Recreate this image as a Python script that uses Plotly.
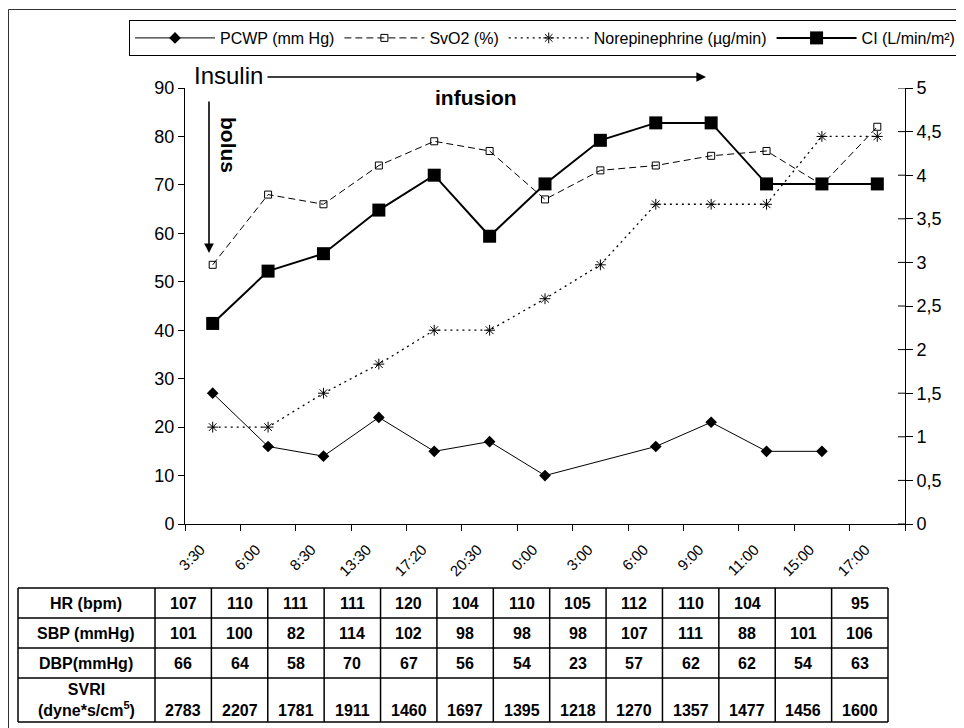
import plotly.graph_objects as go

# ---------------- data ----------------
times = ["3:30", "6:00", "8:30", "13:30", "17:20", "20:30", "0:00",
         "3:00", "6:00", "9:00", "11:00", "15:00", "17:00"]
pcwp = [27, 16, 14, 22, 15, 17, 10, None, 16, 21, 15, 15, None]
svo2 = [53.5, 68, 66, 74, 79, 77, 67, 73, 74, 76, 77, 70, 82]
norepi = [20, 20, 27, 33, 40, 40, 46.5, 53.5, 66, 66, 66, 80, 80]
ci = [2.3, 2.9, 3.1, 3.6, 4.0, 3.3, 3.9, 4.4, 4.6, 4.6, 3.9, 3.9, 3.9]

left_ticks = [0, 10, 20, 30, 40, 50, 60, 70, 80, 90]
right_ticks = [0, 0.5, 1, 1.5, 2, 2.5, 3, 3.5, 4, 4.5, 5]
right_ticktext = ["0", "0,5", "1", "1,5", "2", "2,5", "3", "3,5", "4", "4,5", "5"]

row_labels = ["HR (bpm)", "SBP (mmHg)", "DBP(mmHg)", "SVRI<br>(dyne*s/cm<sup>5</sup>)"]
hr = ["107", "110", "111", "111", "120", "104", "110", "105", "112", "110", "104", "", "95"]
sbp = ["101", "100", "82", "114", "102", "98", "98", "98", "107", "111", "88", "101", "106"]
dbp = ["66", "64", "58", "70", "67", "56", "54", "23", "57", "62", "62", "54", "63"]
svri = ["2783", "2207", "1781", "1911", "1460", "1697", "1395", "1218", "1270",
        "1357", "1477", "1456", "1600"]

# ---------------- layout geometry (reference pixels) ----------------
# the page body adds an 8px offset, so the figure is 8px smaller and shifted
OFF = 8
FW, FH = 964 - OFF, 728 - OFF
L, T = 185, 88          # plot-area left / top in reference pixels
PW, PH = 720, 436
FONT = "Liberation Sans, Arial, sans-serif"


def px(x):
    return (x - L) / PW


def py(y):
    return (T + PH - y) / PH


xs = list(range(len(times)))

fig = go.Figure()
fig.add_trace(go.Scatter(
    x=xs, y=pcwp, name="PCWP (mm Hg)", mode="lines+markers", connectgaps=True,
    line=dict(color="black", width=1),
    marker=dict(symbol="diamond", size=9, color="black")))
fig.add_trace(go.Scatter(
    x=xs, y=svo2, name="SvO2 (%)", mode="lines+markers",
    line=dict(color="black", width=1, dash="7px,4px"),
    marker=dict(symbol="square-open", size=7, color="black", line=dict(width=1))))
fig.add_trace(go.Scatter(
    x=xs, y=norepi, name="Norepinephrine (µg/min)", mode="lines+markers",
    line=dict(color="black", width=1.3, dash="2px,4px"),
    marker=dict(symbol="asterisk-open", size=9, color="black", line=dict(width=1))))
fig.add_trace(go.Scatter(
    x=xs, y=ci, name="CI (L/min/m²)", mode="lines+markers", yaxis="y2",
    line=dict(color="black", width=2),
    marker=dict(symbol="square", size=13, color="black")))

boundaries = [i - 0.5 for i in range(len(times) + 1)]

fig.update_layout(
    width=FW, height=FH,
    margin=dict(l=L - OFF, r=FW - (L - OFF) - PW, t=T - OFF, b=FH - (T - OFF) - PH,
                autoexpand=False),
    paper_bgcolor="white", plot_bgcolor="white",
    font=dict(family=FONT, color="black"),
    showlegend=True,
    legend=dict(orientation="h", x=px(129), xanchor="left", y=py(20), yanchor="top",
                bordercolor="black", borderwidth=1, bgcolor="white",
                font=dict(size=16, family=FONT), itemwidth=80),
    xaxis=dict(range=[-0.5, len(times) - 0.5], tickmode="array", tickvals=xs,
               ticktext=times, ticks="", tickangle=-45,
               ticklabelstandoff=10, ticklabelshift=-12,
               tickfont=dict(size=15, family=FONT),
               showline=True, linecolor="black", linewidth=1, showgrid=False,
               zeroline=False, fixedrange=True,
               minor=dict(tickmode="array", tickvals=boundaries, ticks="outside",
                          ticklen=6, tickcolor="black", tickwidth=1, showgrid=False)),
    yaxis=dict(range=[0, 90], tickmode="array", tickvals=left_ticks,
               ticks="outside", ticklen=6, tickcolor="black",
               tickfont=dict(size=18, family=FONT),
               showline=True, linecolor="black", linewidth=1, showgrid=False,
               zeroline=False),
    yaxis2=dict(range=[0, 5], overlaying="y", side="right", tickmode="array",
                tickvals=right_ticks, ticktext=right_ticktext,
                ticks="outside", ticklen=7, tickcolor="black",
                tickfont=dict(size=18, family=FONT),
                showline=True, linecolor="black", linewidth=1, showgrid=False,
                zeroline=False),
)

shapes = []
# inner half of the crossing ticks on the right axis
for v in right_ticks:
    shapes.append(dict(type="line", xref="paper", yref="y2", x0=1, x1=1 - 7 / PW,
                       y0=v, y1=v, line=dict(color="black", width=1)))

# outer frame
shapes.append(dict(type="rect", xref="paper", yref="paper",
                   x0=px(8.5), x1=px(990), y0=py(9.5), y1=py(760),
                   line=dict(color="#333", width=1)))

annotations = []


def label(x, y, text, size, **kw):
    d = dict(xref="paper", yref="paper", x=px(x), y=py(y), text=text, showarrow=False,
             xanchor="center", yanchor="middle", font=dict(size=size, family=FONT))
    d.update(kw)
    annotations.append(d)


def arrow(x_head, y_head, x_tail, y_tail):
    annotations.append(dict(xref="paper", yref="paper", x=px(x_head), y=py(y_head),
                            text="", showarrow=True, axref="pixel", ayref="pixel",
                            ax=x_tail - x_head, ay=y_tail - y_head,
                            arrowhead=2, arrowsize=1.2, arrowwidth=1.6,
                            arrowcolor="black"))


# Insulin bolus / infusion annotations
label(228, 76, "Insulin", 24)
arrow(706, 77, 266, 77)
label(476, 98, "<b>infusion</b>", 21)
arrow(209, 253, 209, 100)
label(229, 145, "<b>bolus</b>", 21, textangle=90)

# ---------------- table ----------------
tab_left, first_right, tab_right = 18, 155, 888
row_edges = [588, 618, 648, 678, 722]
ncol = len(times)
cw = (tab_right - first_right) / ncol
col_edges = [tab_left] + [first_right + i * cw for i in range(ncol + 1)]

for yy in row_edges:
    shapes.append(dict(type="line", xref="paper", yref="paper",
                       x0=px(tab_left), x1=px(tab_right), y0=py(yy), y1=py(yy),
                       line=dict(color="black", width=1.5)))
for xx in col_edges:
    shapes.append(dict(type="line", xref="paper", yref="paper",
                       x0=px(xx), x1=px(xx), y0=py(row_edges[0]), y1=py(row_edges[-1]),
                       line=dict(color="black", width=1.5)))

rows = [hr, sbp, dbp, svri]
for r, (lab, vals) in enumerate(zip(row_labels, rows)):
    y0, y1 = row_edges[r], row_edges[r + 1]
    ymid = (y0 + y1) / 2
    label((tab_left + first_right) / 2, ymid, "<b>" + lab + "</b>", 16)
    yv = ymid if r < 3 else y1 - 12
    for c, v in enumerate(vals):
        if v == "":
            continue
        label(first_right + (c + 0.5) * cw, yv, "<b>" + v + "</b>", 16)

fig.update_layout(shapes=shapes, annotations=annotations)
fig.write_html("out.html")
